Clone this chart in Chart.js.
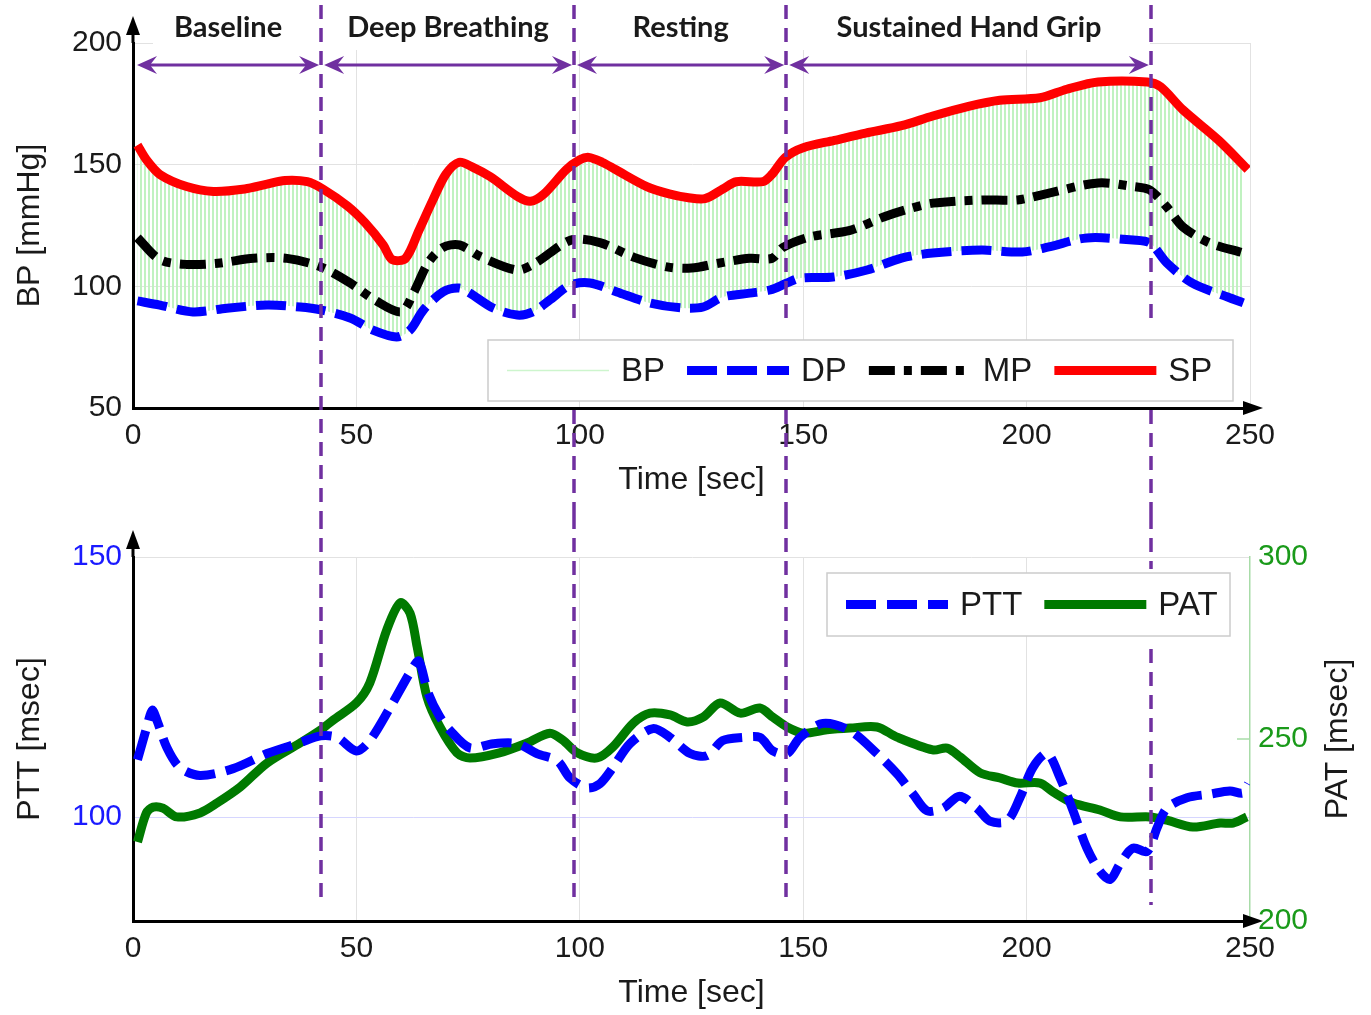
<!DOCTYPE html>
<html>
<head>
<meta charset="utf-8">
<script src="https://cdn.jsdelivr.net/npm/chart.js@4.4.1/dist/chart.umd.min.js"></script>
<style>
  body { margin: 0; background: #fff; }
  #wrap { position: relative; width: 1371px; height: 1015px; }
  canvas { position: absolute; left: 0; }
</style>
</head>
<body>
<div id="wrap">
  <canvas id="bpChart" width="1371" height="515" style="top:0"></canvas>
  <canvas id="pttChart" width="1371" height="500" style="top:515px"></canvas>
</div>
<script>
// 实验阶段（秒）
const phaseTimes = [0, 42.1, 98.7, 146.2, 227.8];
const phaseLabels = ['Baseline', 'Deep Breathing', 'Resting', 'Sustained Hand Grip'];

// 血压曲线 (mmHg)
const spTime = [1, 3, 6, 12, 18, 25, 30, 34, 39, 42.5, 48, 52, 56, 58, 61, 64, 67, 70, 73, 76, 80, 86, 89, 92, 97, 100, 102, 105, 108, 115, 120, 124, 128, 132, 135, 141, 143, 146, 150, 157, 164, 172, 179, 187, 194, 203, 209, 216, 227, 230, 235, 243, 249.5];
const spValue = [158, 152, 146, 141, 139, 140, 142, 143.5, 143, 140, 133, 126, 117, 111, 111.5, 123, 135, 146, 151, 149, 145, 137, 135, 138, 148, 152, 153, 151, 148, 141, 138, 136.5, 136, 140, 143, 143, 146, 153, 157, 160, 163, 166, 170, 174, 176.5, 177.5, 181, 184, 184, 182, 172.5, 160, 148];

const mpTime = [1, 6, 12, 19, 27, 34.5, 42, 48.5, 54, 60, 62.7, 66, 69.4, 73, 78, 86, 90, 98, 104.5, 112, 119.5, 125, 131, 138, 143, 145.5, 151.5, 160.5, 168, 173, 179, 190, 198, 205, 216, 224, 227.6, 231.4, 235, 241, 248];
const mpValue = [120, 111, 109, 109.5, 111.5, 111.5, 108, 101.5, 94.5, 89.5, 97, 109.5, 116, 117, 112, 106.7, 109.5, 119, 118, 112, 108, 107.5, 109.5, 111.5, 111.5, 116, 120.3, 123, 128.5, 131.5, 134.2, 135.5, 135.5, 138.3, 142.5, 141, 139.6, 132.6, 124.4, 117.8, 114];

const dpTime = [1, 6, 13.4, 21, 30, 37.4, 42, 48.6, 53.7, 59, 62, 65, 69.4, 73, 75.4, 80.6, 86, 89.5, 93.3, 97.8, 102.3, 108.3, 115.7, 123, 127.6, 132, 138, 142.6, 146.4, 149.3, 156.7, 164.3, 172, 179, 190, 199, 205, 213.5, 223.8, 227.6, 231.4, 237, 245, 248.5];
const dpValue = [94, 92.3, 89.5, 91, 92.3, 91.5, 90.3, 87, 82, 79.2, 82, 90.3, 97.7, 99.3, 97.2, 91.1, 88.2, 89.5, 94.4, 100.5, 101.4, 97.7, 93.2, 91.1, 91.5, 95.6, 97.2, 98.5, 101.4, 103.4, 103.8, 106.7, 111.6, 113.7, 114.9, 114.1, 116.2, 119.9, 119, 117.8, 109.6, 101.4, 95.6, 93.2];

// 脉搏传导时间 (msec)
const pttTime = [1, 3, 4.3, 5.4, 7.6, 10.5, 15, 22.4, 30, 37.4, 42, 45.7, 50, 53, 57.5, 62.7, 64, 66, 68.5, 71, 75.4, 80.6, 86, 90.4, 95, 97.8, 101.6, 104.5, 107.4, 111.2, 116.4, 120.2, 124.7, 128.5, 132, 136.5, 140.3, 143.2, 146.4, 149.3, 154.4, 160.5, 166.5, 171, 174.6, 177.7, 181.3, 185, 188.9, 191.8, 195.6, 198.5, 201.4, 204.6, 207.5, 210.4, 213.5, 216.4, 218.7, 220.9, 223.8, 227, 229.2, 231.4, 235.9, 241, 245.5, 248.4, 249.6];
const pttValue = [111, 117, 120.5, 118.5, 113.3, 109.5, 108, 109.3, 112.2, 114.3, 115.6, 115.3, 112.7, 114.7, 121, 128.8, 130, 124, 119.5, 116.6, 113.3, 114.1, 114.1, 112.2, 110.8, 107.5, 105.6, 106.4, 109.5, 114.1, 117, 115.3, 112.2, 111.8, 114.7, 115.3, 115.3, 112.7, 112.2, 115.3, 118, 116.6, 112.2, 108.3, 104.4, 101.2, 101.7, 104, 101.7, 99.2, 99.2, 103.7, 109.5, 112.2, 107.5, 101.2, 94, 89.6, 88, 91, 94, 93.4, 97.9, 101.7, 103.7, 104.4, 105, 104.6, 106.4];

const patTime = [1, 3, 4.5, 6.7, 9.8, 15, 18.8, 24, 30, 37.4, 42, 44.8, 50, 53, 56.8, 59.8, 62, 63.6, 65.8, 68.7, 72.5, 75.4, 82, 88.2, 93.3, 96.2, 99.4, 103.9, 107.4, 112, 115.7, 120.2, 124, 127.6, 131.4, 135.9, 140.3, 143.2, 146.4, 150, 155.3, 160.5, 166.5, 171, 179, 182.2, 185.1, 189.6, 194, 198, 203, 206, 210.4, 216.4, 221, 227.6, 231.4, 237.2, 243.3, 246.2, 249.3];
const patValue = [221.7, 229.7, 231.3, 231, 228.6, 229.7, 232.4, 236.8, 243.4, 248.9, 252.5, 255.2, 259.9, 265.4, 280, 287.4, 284.6, 275.3, 261.5, 253.3, 246.2, 244.8, 246.2, 248.9, 251.6, 249.7, 246.2, 244.8, 247.8, 254.4, 257.1, 256.6, 254.7, 256, 259.9, 257.1, 258.5, 256, 253.3, 251.6, 252.5, 253, 253.3, 250.5, 247, 247.5, 245.1, 240.7, 239.3, 237.9, 237.9, 235.4, 232.4, 230.5, 228.6, 228.6, 227.7, 225.8, 226.9, 226.9, 228.6];

// 坐标轴刻度
const timeTicks = [0, 50, 100, 150, 200, 250];
const bpTicks = [50, 100, 150, 200];
const pttTicks = [100, 150];
const patTicks = [200, 250, 300];

const FONT = 'Liberation Sans, Arial, sans-serif';
const TEXT = '#1a1a1a';
const PURPLE = '#7030a0';

function toXY(ts, vs) {
    return ts.map((t, i) => ({ x: t, y: vs[i] }));
}

function setTicks(values) {
    return scale => { scale.ticks = values.map(v => ({ value: v })); };
}

// BP 波形的竖条纹
function stripePattern() {
    const c = document.createElement('canvas');
    c.width = 4; c.height = 4;
    const g = c.getContext('2d');
    g.fillStyle = 'rgb(192,242,192)';
    g.fillRect(0, 0, 2, 4);
    return g.createPattern(c, 'repeat');
}

function drawPhaseLines(chart, yTop, yBottom, skip) {
    const ctx = chart.ctx;
    const xs = chart.scales.x;
    ctx.save();
    ctx.strokeStyle = PURPLE;
    ctx.lineWidth = 3.5;
    ctx.setLineDash([14, 9]);
    phaseTimes.slice(1).forEach(t => {
        const x = Math.round(xs.getPixelForValue(t));
        ctx.beginPath();
        if (skip && x > skip.x1 && x < skip.x2) {
            ctx.moveTo(x, yTop); ctx.lineTo(x, skip.y1);
            ctx.moveTo(x, skip.y2); ctx.lineTo(x, yBottom);
        } else {
            ctx.moveTo(x, yTop); ctx.lineTo(x, yBottom);
        }
        ctx.stroke();
    });
    ctx.restore();
}

function arrowHead(ctx, tipX, y, dir) {
    ctx.beginPath();
    ctx.moveTo(tipX, y);
    ctx.lineTo(tipX - dir * 20, y - 9);
    ctx.lineTo(tipX - dir * 13, y);
    ctx.lineTo(tipX - dir * 20, y + 9);
    ctx.closePath();
    ctx.fill();
}

function drawPhaseArrows(chart) {
    const ctx = chart.ctx;
    const xs = chart.scales.x;
    const y = 65;
    ctx.save();
    ctx.strokeStyle = PURPLE;
    ctx.fillStyle = PURPLE;
    ctx.lineWidth = 3;
    for (let i = 0; i < phaseLabels.length; i++) {
        const a = xs.getPixelForValue(phaseTimes[i]) + (i === 0 ? 4 : 3);
        const b = xs.getPixelForValue(phaseTimes[i + 1]) - 2;
        ctx.beginPath();
        ctx.moveTo(a + 10, y); ctx.lineTo(b - 10, y);
        ctx.stroke();
        arrowHead(ctx, a, y, -1);
        arrowHead(ctx, b, y, 1);
        ctx.fillStyle = TEXT;
        ctx.font = 'bold 29px Lato, "Open Sans", sans-serif';
        ctx.textAlign = 'center';
        ctx.textBaseline = 'middle';
        ctx.fillText(phaseLabels[i], (a + b) / 2, 28);
        ctx.fillStyle = PURPLE;
    }
    ctx.restore();
}

// 坐标轴箭头
function drawAxisArrows(chart) {
    const { ctx, chartArea } = chart;
    const { left, right, top, bottom } = chartArea;
    ctx.save();
    ctx.fillStyle = '#000';
    ctx.strokeStyle = '#000';
    ctx.lineWidth = 3;
    ctx.beginPath();
    ctx.moveTo(left, top); ctx.lineTo(left, top - 12);
    ctx.stroke();
    ctx.beginPath();
    ctx.moveTo(left, top - 27); ctx.lineTo(left - 7, top - 8); ctx.lineTo(left + 7, top - 8);
    ctx.closePath(); ctx.fill();
    ctx.beginPath();
    ctx.moveTo(right + 13, bottom); ctx.lineTo(right - 7, bottom - 7); ctx.lineTo(right - 7, bottom + 7);
    ctx.closePath(); ctx.fill();
    ctx.restore();
}

// 自绘图例
function drawLegend(chart, box) {
    const ctx = chart.ctx;
    ctx.save();
    ctx.fillStyle = '#fff';
    ctx.fillRect(box.x1, box.y1, box.x2 - box.x1, box.y2 - box.y1);
    ctx.strokeStyle = '#cccccc';
    ctx.lineWidth = 1.5;
    ctx.strokeRect(box.x1, box.y1, box.x2 - box.x1, box.y2 - box.y1);
    const yc = (box.y1 + box.y2) / 2;
    ctx.font = '33px ' + FONT;
    ctx.textBaseline = 'middle';
    ctx.textAlign = 'left';
    let x = box.x1 + 19;
    chart.data.datasets.forEach(ds => {
        ctx.strokeStyle = ds.borderColor;
        ctx.lineWidth = ds.borderWidth;
        ctx.setLineDash(ds.borderDash || []);
        ctx.lineCap = 'butt';
        ctx.beginPath();
        ctx.moveTo(x, yc); ctx.lineTo(x + 102, yc);
        ctx.stroke();
        ctx.setLineDash([]);
        ctx.fillStyle = TEXT;
        ctx.fillText(ds.label, x + 114, yc + 1);
        x += 114 + ctx.measureText(ds.label).width + 22;
    });
    ctx.restore();
}

const bpOverlay = {
    id: 'bpOverlay',
    beforeDatasetsDraw(chart) {
        const { ctx, chartArea } = chart;
        ctx.save();
        ctx.fillStyle = '#fff';
        ctx.fillRect(153, chartArea.top - 3, 997, 10);
        ctx.restore();
    },
    afterDraw(chart) {
        drawPhaseLines(chart, 5, chart.height, { x1: 488, x2: 1233, y1: 322, y2: 410 });
        drawLegend(chart, { x1: 488, y1: 340, x2: 1233, y2: 401 });
        drawPhaseArrows(chart);
        drawAxisArrows(chart);
    }
};

const pttOverlay = {
    id: 'pttOverlay',
    afterDraw(chart) {
        const { ctx, chartArea } = chart;
        drawPhaseLines(chart, 0, 390, { x1: 827, x2: 1233, y1: 54, y2: 134 });
        drawLegend(chart, { x1: 827, y1: 58, x2: 1230, y2: 121 });
        drawAxisArrows(chart);
        // 右轴内侧刻度与标题
        const yr = chart.scales.yPat;
        ctx.save();
        ctx.strokeStyle = '#a8dca8';
        ctx.lineWidth = 1.5;
        ctx.beginPath();
        ctx.moveTo(chartArea.right - 13, yr.getPixelForValue(250));
        ctx.lineTo(chartArea.right, yr.getPixelForValue(250));
        ctx.stroke();
        ctx.translate(1338, (chartArea.top + chartArea.bottom) / 2);
        ctx.rotate(-Math.PI / 2);
        ctx.font = '32px ' + FONT;
        ctx.fillStyle = TEXT;
        ctx.textAlign = 'center';
        ctx.textBaseline = 'middle';
        ctx.fillText('PAT [msec]', 0, 0);
        ctx.restore();
    }
};

const tickFont = { family: FONT, size: 30 };
const titleFont = { family: FONT, size: 32 };

function timeAxis(height, titlePad, gridColor) {
    return {
        type: 'linear', min: 0, max: 250,
        afterBuildTicks: setTicks(timeTicks),
        ticks: { padding: 10, color: TEXT, font: tickFont, maxRotation: 0 },
        grid: { color: gridColor, drawTicks: false },
        border: { color: '#000', width: 3 },
        title: { display: true, text: 'Time [sec]', color: TEXT, font: titleFont, padding: { top: 0, bottom: titlePad } },
        afterFit: s => { s.height = height; }
    };
}

new Chart(document.getElementById('bpChart'), {
    type: 'line',
    data: {
        datasets: [
            { label: 'BP', data: toXY(spTime, spValue), borderColor: '#cdf5cd', borderWidth: 1.5, fill: 1, backgroundColor: stripePattern(), order: 10 },
            { label: 'DP', data: toXY(dpTime, dpValue), borderColor: '#0000ff', borderWidth: 9, borderDash: [30, 10], order: 3 },
            { label: 'MP', data: toXY(mpTime, mpValue), borderColor: '#000000', borderWidth: 9, borderDash: [26, 9, 8, 9], order: 2 },
            { label: 'SP', data: toXY(spTime, spValue), borderColor: '#ff0000', borderWidth: 9, order: 1 }
        ]
    },
    options: {
        responsive: false,
        animation: false,
        devicePixelRatio: 1,
        layout: { padding: { top: 43, right: 121, left: 0, bottom: 0 } },
        elements: { point: { radius: 0 }, line: { tension: 0.3, borderCapStyle: 'butt' } },
        plugins: { legend: { display: false }, tooltip: { enabled: false } },
        scales: {
            x: timeAxis(107, 16, '#e2e2e2'),
            y: {
                min: 50, max: 200,
                afterBuildTicks: setTicks(bpTicks),
                ticks: { padding: 11, color: TEXT, font: tickFont },
                grid: { color: '#e2e2e2', drawTicks: false },
                border: { color: '#000', width: 3 },
                title: { display: true, text: 'BP [mmHg]', color: TEXT, font: titleFont, padding: { top: 11, bottom: 0 } },
                afterFit: s => { s.width = 133; }
            }
        }
    },
    plugins: [bpOverlay]
});

new Chart(document.getElementById('pttChart'), {
    type: 'line',
    data: {
        datasets: [
            { label: 'PTT', data: toXY(pttTime, pttValue), borderColor: '#0000ff', borderWidth: 9, borderDash: [30, 11], yAxisID: 'y', order: 1 },
            { label: 'PAT', data: toXY(patTime, patValue), borderColor: '#007a00', borderWidth: 9, yAxisID: 'yPat', order: 2 }
        ]
    },
    options: {
        responsive: false,
        animation: false,
        devicePixelRatio: 1,
        layout: { padding: { top: 42, right: 0, left: 0, bottom: 0 } },
        elements: { point: { radius: 0 }, line: { tension: 0.3, borderCapStyle: 'butt' } },
        plugins: { legend: { display: false }, tooltip: { enabled: false } },
        scales: {
            x: timeAxis(94, 3, c => c.tick && c.tick.value === 250 ? 'rgba(0,0,0,0)' : '#e2e2e2'),
            y: {
                position: 'left',
                min: 80, max: 150,
                afterBuildTicks: setTicks(pttTicks),
                ticks: { padding: 11, color: '#1a1aff', font: tickFont },
                grid: { color: c => c.tick && c.tick.value === 100 ? '#d6d6ff' : '#e2e2e2', drawTicks: false },
                border: { color: '#000', width: 3 },
                title: { display: true, text: 'PTT [msec]', color: TEXT, font: titleFont, padding: { top: 11, bottom: 0 } },
                afterFit: s => { s.width = 133; }
            },
            yPat: {
                position: 'right',
                min: 200, max: 300,
                afterBuildTicks: setTicks(patTicks),
                ticks: { padding: 8, color: '#1a9a1a', font: tickFont },
                grid: { display: false, drawTicks: false },
                border: { color: '#a8dca8', width: 1.5 },
                afterFit: s => { s.width = 121; }
            }
        }
    },
    plugins: [pttOverlay]
});
</script>
</body>
</html>
